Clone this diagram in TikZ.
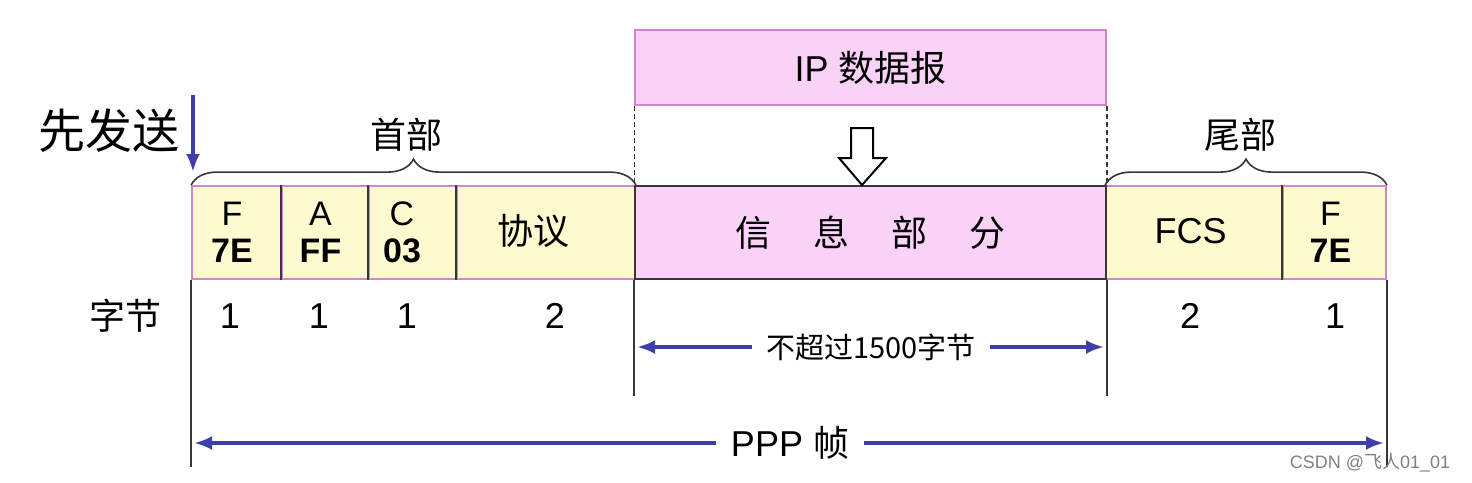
\documentclass[tikz,border=0pt]{standalone}
\usepackage{fontspec}
\setmainfont{Liberation Sans}
\newfontfamily\cjk{Noto Sans CJK SC}
\usetikzlibrary{arrows.meta,decorations.pathreplacing}
\definecolor{cellyellow}{RGB}{253,250,208}
\definecolor{cellpink}{RGB}{250,210,248}
\definecolor{pinkline}{RGB}{214,130,204}
\definecolor{arrowblue}{RGB}{62,62,172}
\definecolor{inkgray}{RGB}{55,55,55}
\tikzset{
  field/.style={draw=pinkline, line width=1.8pt, fill=cellyellow, minimum height=93pt, inner sep=0pt, align=center, font=\fontsize{34}{37}\selectfont},
  datafield/.style={field, draw=inkgray, fill=cellpink},
  lbl/.style={font=\fontsize{36}{40}\selectfont},
  divider/.style={inkgray, line width=1.6pt},
  guide/.style={inkgray, line width=1.6pt},
  span/.style={arrowblue, line width=3.5pt, -{Latex[length=18pt,width=14pt]}},
  brc/.style={inkgray, line width=1.6pt, decorate, decoration={brace, amplitude=26pt}}
}
\begin{document}
\begin{tikzpicture}[x=1pt,y=-1pt]
    \useasboundingbox (0,0) rectangle (1472,482);
    \node[field, draw=pinkline, fill=cellpink, minimum width=471pt, minimum height=75pt, lbl] (ip) at (870.5,67.5) {IP {\cjk 数据报}};
    \node[field, minimum width=90pt] (f1) at (237,232.5) {\hspace*{-10pt}F\\\hspace*{-10pt}\textbf{7E}};
    \node[field, minimum width=87pt] (a) at (325.5,232.5) {\hspace*{-10pt}A\\\hspace*{-10pt}\textbf{FF}};
    \node[field, minimum width=88pt] (c) at (413,232.5) {\hspace*{-22pt}C\\\hspace*{-22pt}\textbf{03}};
    \node[field, minimum width=178pt, lbl] (proto) at (546,232.5) {\hspace*{-26pt}\raisebox{6pt}{\cjk 协议}};
    \node[field, minimum width=177pt, lbl] (fcs) at (1194.5,232.5) {\hspace*{-8pt}\raisebox{4pt}{FCS}};
    \node[field, minimum width=103pt] (f2) at (1334.5,232.5) {\hspace*{-8pt}F\\\hspace*{-8pt}\textbf{7E}};
    \node[datafield, minimum width=471pt, lbl] (info) at (870.5,232.5) {\cjk 信\hspace{42pt}息\hspace{42pt}部\hspace{42pt}分};
    \draw[divider] (a.north west) -- (a.south west) (c.north west) -- (c.south west) (proto.north west) -- (proto.south west) (f2.north west) -- (f2.south west);
    \draw[inkgray, line width=1.2pt, dash pattern=on 5pt off 3pt] (ip.south west) -- (info.north west) (ip.south east) -- (info.north east);
    \draw[line width=2pt, fill=white] (851,128) -- (873,128) -- (873,158) -- (886,158) -- (862,185) -- (839,158) -- (851,158) -- cycle;
    \draw[brc] (f1.north west) -- (proto.north east);
    \draw[brc] (fcs.north west) -- (f2.north east);
    \node[lbl] (head) at (406,135) {\cjk 首部};
    \node[lbl] (tail) at (1240,135) {\cjk 尾部};
    \node[font=\fontsize{47}{50}\selectfont\cjk] (first) at (109,131) {先发送};
    \coordinate (sendtop) at (193,95);
    \coordinate (sendtip) at (193,172);
    \draw[span] (sendtop) -- (sendtip);
    \node[lbl] (bytes) at (125,316) {\cjk 字节};
    \node[lbl] (n1) at (230,316) {1};
    \node[lbl] (n2) at (319,316) {1};
    \node[lbl] (n3) at (407,316) {1};
    \node[lbl] (n4) at (555,316) {2};
    \node[lbl] (n5) at (1190,316) {2};
    \node[lbl] (n6) at (1335,316) {1};
    \draw[guide] (f1.south west) -- ++(0,187) (f2.south east) -- ++(0,187);
    \draw[guide] (info.south west) -- ++(0,116) (info.south east) -- ++(0,116);
    \coordinate (limL) at (637,347);
    \coordinate (limR) at (1104,347);
    \node[font=\fontsize{29}{32}\selectfont\cjk, inner xsep=14pt] (lim) at (871,347) {不超过1500字节};
    \draw[span] (lim) -- (limL);
    \draw[span] (lim) -- (limR);
    \coordinate (pppL) at (194,443);
    \coordinate (pppR) at (1384,443);
    \node[lbl, inner xsep=15pt] (ppp) at (790,443) {PPP {\cjk 帧}};
    \draw[span] (ppp) -- (pppL);
    \draw[span] (ppp) -- (pppR);
    \node[font=\fontsize{18}{20}\selectfont, text=gray] (mark) at (1370,463) {CSDN @{\cjk 飞人}01\_01};
\end{tikzpicture}
\end{document}
